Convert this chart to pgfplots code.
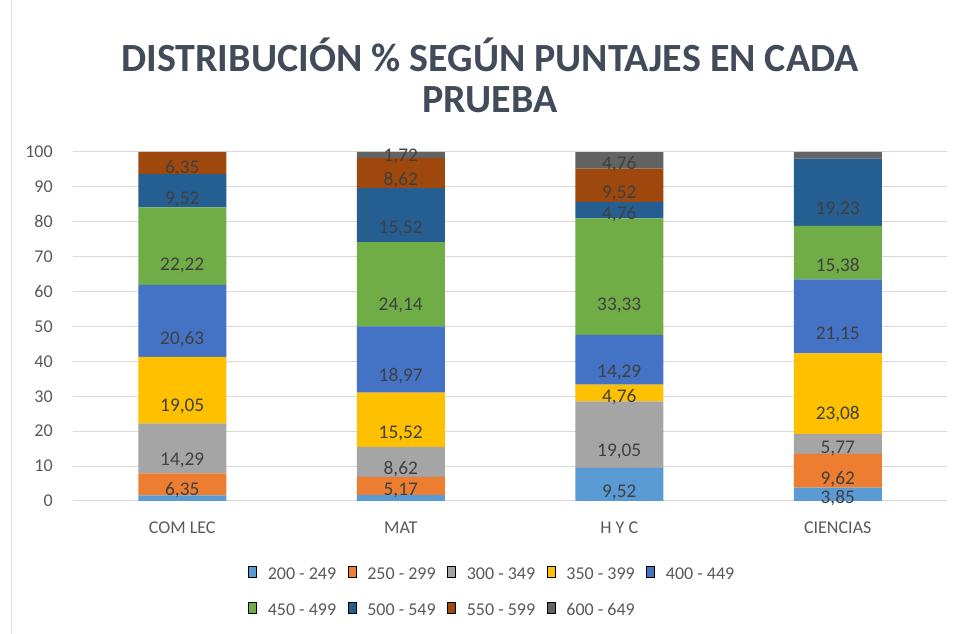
\documentclass[border=0pt]{standalone}
\usepackage{pgfplots}
\pgfplotsset{compat=1.18}
\usepackage{pgfplotstable}
\usepackage{fontspec}
\setmainfont{Carlito}
\definecolor{c1}{HTML}{5B9BD5}
\definecolor{c2}{HTML}{ED7D31}
\definecolor{c3}{HTML}{A5A5A5}
\definecolor{c4}{HTML}{FFC000}
\definecolor{c5}{HTML}{4472C4}
\definecolor{c6}{HTML}{70AD47}
\definecolor{c7}{HTML}{255E91}
\definecolor{c8}{HTML}{9E480E}
\definecolor{c9}{HTML}{636363}
\definecolor{titlec}{HTML}{414B59}
\definecolor{tickc}{HTML}{595959}
\definecolor{gridc}{HTML}{D9D9D9}
\definecolor{lblc}{HTML}{404040}
\pgfplotsset{
  /pgfplots/ybar legend/.style={
    /pgfplots/legend image code/.code={\fill[##1] (0pt,-3.4pt) rectangle (6.75pt,3.4pt);}
  }
}
% columns: x = category index, y = percentage, s = 1 if the label is shown
\pgfplotstableread{
x y s
0 1.59 0
1 1.72 0
2 9.52 1
3 3.85 1
}\sA
\pgfplotstableread{
x y s
0 6.35 1
1 5.17 1
2 0 0
3 9.62 1
}\sB
\pgfplotstableread{
x y s
0 14.29 1
1 8.62 1
2 19.05 1
3 5.77 1
}\sC
\pgfplotstableread{
x y s
0 19.05 1
1 15.52 1
2 4.76 1
3 23.08 1
}\sD
\pgfplotstableread{
x y s
0 20.63 1
1 18.97 1
2 14.29 1
3 21.15 1
}\sE
\pgfplotstableread{
x y s
0 22.22 1
1 24.14 1
2 33.33 1
3 15.38 1
}\sF
\pgfplotstableread{
x y s
0 9.52 1
1 15.52 1
2 4.76 1
3 19.23 1
}\sG
\pgfplotstableread{
x y s
0 6.35 1
1 8.62 1
2 9.52 1
3 0 0
}\sH
\pgfplotstableread{
x y s
0 0 0
1 1.72 1
2 4.76 1
3 1.92 0
}\sI
\newcommand{\legbox}[1]{\makebox[60pt][l]{#1}}
\begin{document}
\begin{tikzpicture}[x=0.75pt,y=0.75pt]
\path[use as bounding box] (0,0) rectangle (959,634);
\fill[white] (0,0) rectangle (959,634);
\draw[gridc!70, line width=0.75pt] (11,0) -- (11,634);
\node[font=\fontsize{30}{34}\selectfont\bfseries, text=titlec] at (490,579) {DISTRIBUCIÓN \% SEGÚN PUNTAJES EN CADA};
\node[font=\fontsize{30}{34}\selectfont\bfseries, text=titlec] at (490,534) {PRUEBA};
\begin{axis}[
  at={(54.75pt,99.75pt)}, anchor=south west,
  scale only axis, width=655.5pt, height=261.75pt,
  ybar stacked, bar width=66pt,
  xmin=-0.5, xmax=3.5, ymin=0, ymax=100,
  xtick={0,1,2,3}, xticklabels={COM LEC, MAT, H Y C, CIENCIAS},
  ytick={0,10,...,100},
  ymajorgrids, grid style={draw=gridc, line width=0.75pt},
  axis line style={draw=none}, major tick length=0pt,
  tick label style={font=\fontsize{13.5}{16}\selectfont, text=tickc},
  yticklabel style={anchor=east, inner sep=0pt, xshift=-15pt},
  xticklabel style={anchor=base, inner sep=0pt, yshift=-24.75pt},
  /pgf/number format/assume math mode=true,
  visualization depends on=\thisrow{y} \as \rawv,
  visualization depends on=\thisrow{s} \as \shw,
  nodes near coords={\ifdim\shw pt>0.5pt\pgfmathprintnumber[fixed,fixed zerofill,precision=2,use comma]{\rawv}\fi},
  every node near coord/.append style={font=\fontsize{14.5}{16}\selectfont, text=lblc, anchor=center, inner sep=0pt, shift={(axis direction cs:0,-\rawv/4)}},
  legend columns=5,
  legend style={draw=none, fill=none, inner sep=0pt, at={(axis description cs:0.2002,-0.2607)}, anchor=west,
    font=\fontsize{13.5}{16}\selectfont, text=tickc,
    nodes={inner sep=0pt},
    /tikz/every odd column/.append style={column sep=8.25pt},
    row sep=15.5pt},
]
\addplot[fill=c1, draw=none] table[x=x,y=y]{\sA};
\addplot[fill=c2, draw=none] table[x=x,y=y]{\sB};
\addplot[fill=c3, draw=none] table[x=x,y=y]{\sC};
\addplot[fill=c4, draw=none] table[x=x,y=y]{\sD};
\addplot[fill=c5, draw=none] table[x=x,y=y]{\sE};
\addplot[fill=c6, draw=none] table[x=x,y=y]{\sF};
\addplot[fill=c7, draw=none] table[x=x,y=y]{\sG};
\addplot[fill=c8, draw=none] table[x=x,y=y]{\sH};
\addplot[fill=c9, draw=none] table[x=x,y=y]{\sI};
\legend{\legbox{200 - 249},\legbox{250 - 299},\legbox{300 - 349},\legbox{350 - 399},\legbox{400 - 449},\legbox{450 - 499},\legbox{500 - 549},\legbox{550 - 599},\legbox{600 - 649}}
\end{axis}
\end{tikzpicture}
\end{document}
